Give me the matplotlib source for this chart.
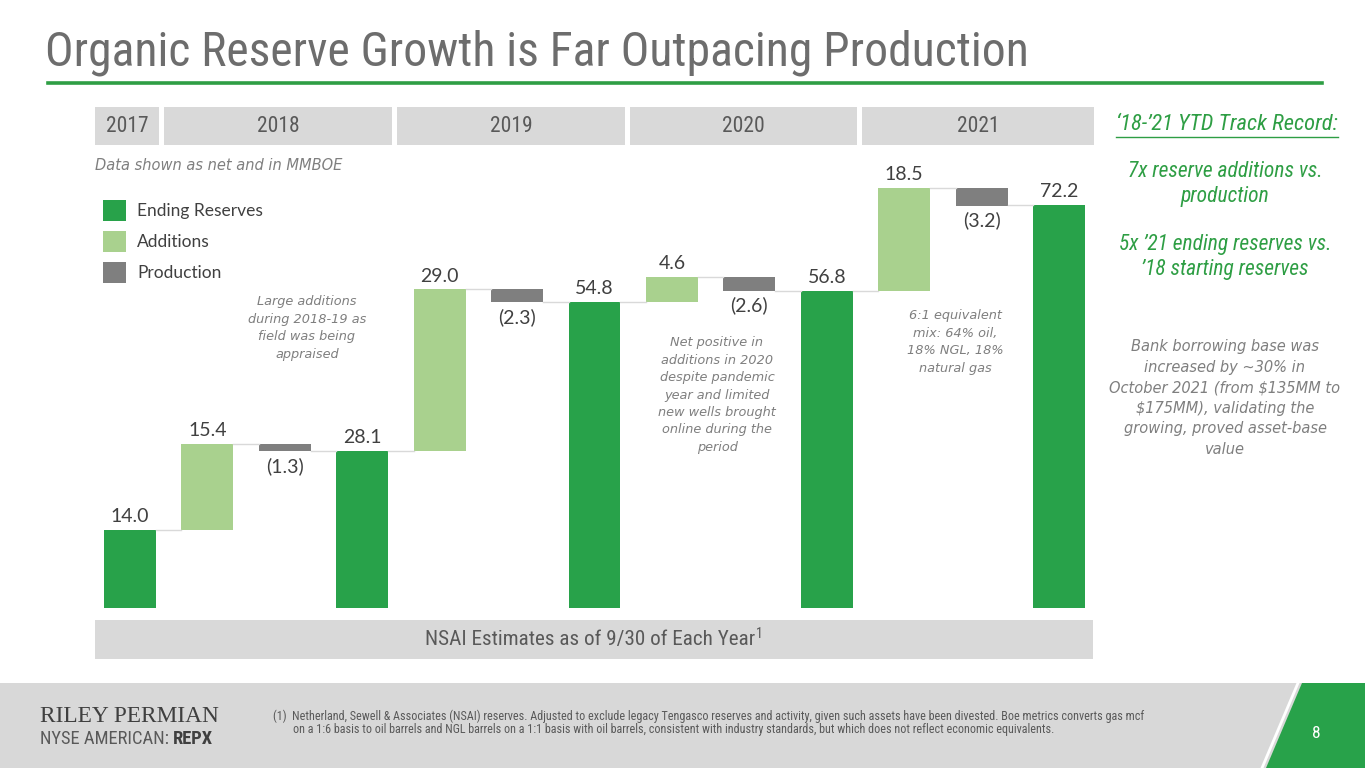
import matplotlib
matplotlib.use('Agg')
import matplotlib.pyplot as plt
from matplotlib import font_manager
from matplotlib.patches import Rectangle, Polygon

# ---- data (MMBOE, net) ----
years = ['2017', '2018', '2019', '2020', '2021']
ending = [14.0, 28.1, 54.8, 56.8, 72.2]
additions = [15.4, 29.0, 4.6, 18.5]
production = [1.3, 2.3, 2.6, 3.2]
legend_labels = ['Ending Reserves', 'Additions', 'Production']

notes = [
    'Large additions\nduring 2018-19 as\nfield was being\nappraised',
    'Net positive in\nadditions in 2020\ndespite pandemic\nyear and limited\nnew wells brought\nonline during the\nperiod',
    '6:1 equivalent\nmix: 64% oil,\n18% NGL, 18%\nnatural gas',
]

W, H = 1365, 768
GREEN = '#28a24a'
LIGHT = '#a9d18e'
GREY = '#7f7f7f'
BOX = '#d9d9d9'
TXT = '#595959'
ACCENT = '#2e9e44'


def pick(names):
    for n in names:
        try:
            font_manager.findfont(n, fallback_to_default=False)
            return n
        except Exception:
            pass
    return 'DejaVu Sans'


COND = pick(['Liberation Sans Narrow', 'Roboto Condensed', 'Roboto'])
SANS = pick(['Lato', 'Open Sans', 'DejaVu Sans'])
ITAL = 'DejaVu Sans'
SERIF = pick(['Liberation Serif', 'DejaVu Serif'])


def fx(x):
    return x / W


def fy(y):
    return 1 - y / H


fig = plt.figure(figsize=(W / 100, H / 100), dpi=100)
renderer = fig.canvas.get_renderer()


def fit(t, width_px):
    """scale a text object so it spans width_px"""
    bb = t.get_window_extent(renderer)
    t.set_fontsize(t.get_fontsize() * width_px / bb.width)


# ---- title ----
title = fig.text(fx(45), fy(53), 'Organic Reserve Growth is Far Outpacing Production',
                 fontsize=30, color='#6d6d6d', family=COND, va='center', ha='left')
fit(title, 983)
fig.add_artist(plt.Line2D([fx(48), fx(1322)], [fy(83), fy(83)], color=ACCENT, lw=2.6))

# ---- year header boxes ----
year_spans = [(95, 159), (164, 392), (397, 625), (630, 857), (862, 1094)]
for yr, (x0, x1) in zip(years, year_spans):
    fig.add_artist(Rectangle((fx(x0), fy(145)), fx(x1 - x0), 38 / H,
                             color=BOX, lw=0, transform=fig.transFigure))
    fig.text(fx((x0 + x1) / 2), fy(127), yr, fontsize=15.5, color=TXT,
             family=COND, ha='center', va='center')

dsub = fig.text(fx(95), fy(166), 'Data shown as net and in MMBOE', fontsize=10,
                color='#7f7f7f', style='italic', family=ITAL, ha='left', va='center')
fit(dsub, 247)

# ---- waterfall axes ----
ax = fig.add_axes([fx(94), fy(608), fx(1093 - 94), (608 - 160) / H])
ax.set_xlim(-36 / 77.42, 963 / 77.42)
ax.set_ylim(0, 448 / 5.58)
ax.axis('off')

bw = 0.67
lab = dict(fontsize=14, color='#404040', family=SANS, ha='center')


def label_above(x, y, s):
    ax.annotate(s, (x, y), xytext=(0, 3.5), textcoords='offset points', va='bottom', **lab)


def label_below(x, y, s):
    ax.annotate(s, (x, y), xytext=(0, -4), textcoords='offset points', va='top', **lab)


def connector(x_from, x_to, level):
    ax.plot([x_from + bw / 2, x_to - bw / 2], [level, level], color='#d9d9d9', lw=1, zorder=1)


ax.bar(0, ending[0], width=bw, color=GREEN)
label_above(0, ending[0], f'{ending[0]:.1f}')
for i in range(len(additions)):
    xa, xp, xe = 3 * i + 1, 3 * i + 2, 3 * i + 3
    top = ending[i] + additions[i]
    ax.bar(xa, additions[i], bottom=ending[i], width=bw, color=LIGHT)
    ax.bar(xp, production[i], bottom=top - production[i], width=bw, color=GREY)
    ax.bar(xe, ending[i + 1], width=bw, color=GREEN)
    connector(xa - 1, xa, ending[i])
    connector(xa, xp, top)
    connector(xp, xe, ending[i + 1])
    label_above(xa, top, f'{additions[i]:.1f}')
    label_below(xp, top - production[i], f'({production[i]:.1f})')
    label_above(xe, ending[i + 1], f'{ending[i + 1]:.1f}')

# ---- legend ----
for k, (name, col) in enumerate(zip(legend_labels, [GREEN, LIGHT, GREY])):
    y0 = 200 + 31 * k
    fig.add_artist(Rectangle((fx(103), fy(y0 + 21)), fx(23), 21 / H, color=col, lw=0,
                             transform=fig.transFigure))
    fig.text(fx(137), fy(y0 + 11), name, fontsize=12.5, color='#404040', family=SANS,
             ha='left', va='center')

# ---- notes ----
note_pos = [(307, 328), (717, 395), (955, 342)]
for txt, (x, y) in zip(notes, note_pos):
    fig.text(fx(x), fy(y), txt, fontsize=9.3, color='#7f7f7f', style='italic',
             family=ITAL, ha='center', va='center', linespacing=1.45)

# ---- bottom box ----
fig.add_artist(Rectangle((fx(95), fy(659)), fx(998), 39 / H, color=BOX, lw=0,
                         transform=fig.transFigure))
nsai = fig.text(fx(590), fy(640), 'NSAI Estimates as of 9/30 of Each Year', fontsize=15.2,
                color=TXT, family=COND, ha='center', va='center')
bb = nsai.get_window_extent(renderer)
fig.text(bb.x1 / W + 0.001, fy(634), '1', fontsize=10, color=TXT, family=COND,
         ha='left', va='center')

# ---- right side commentary ----
green_kw = dict(fontsize=15.5, color=ACCENT, style='italic', family=COND, ha='center',
                va='center', linespacing=1.3)
hdr = fig.text(fx(1227), fy(125), '\u201818-\u201921 YTD Track Record:', **green_kw)
fit(hdr, 221)
bb = hdr.get_window_extent(renderer)
fig.add_artist(plt.Line2D([bb.x0 / W, bb.x1 / W], [fy(137), fy(137)], color=ACCENT, lw=1))
fig.text(fx(1225), fy(184), '7x reserve additions vs.\nproduction', **green_kw)
fig.text(fx(1225), fy(257), '5x \u201921 ending reserves vs.\n\u201918 starting reserves', **green_kw)
fig.text(fx(1225), fy(398), 'Bank borrowing base was\nincreased by ~30% in\nOctober 2021 (from $135MM to\n'
         '$175MM), validating the\ngrowing, proved asset-base\nvalue', fontsize=10.5,
         color='#7f7f7f', style='italic', family=ITAL, ha='center', va='center', linespacing=1.45)

# ---- footer ----
fig.add_artist(Rectangle((0, 0), 1, 85 / H, color='#d8d8d8', lw=0, transform=fig.transFigure))
fig.add_artist(Polygon([(fx(1302), fy(683)), (1, fy(683)), (1, 0), (fx(1266), 0)],
                       closed=True, color='#28a24a', lw=0, transform=fig.transFigure))
fig.add_artist(plt.Line2D([fx(1298), fx(1262)], [fy(683), 0], color='white', lw=2))
fig.text(fx(1316), fy(734), '8', fontsize=12.5, color='white', family=COND, ha='center', va='center')

riley = fig.text(fx(40), fy(717), 'RILEY PERMIAN', fontsize=15, color='#3f3f3f',
                 family=SERIF, ha='left', va='center')
fit(riley, 180)
nyse = fig.text(fx(40), fy(739), 'NYSE AMERICAN: ', fontsize=13.3, color=TXT,
                family=COND, ha='left', va='center')
bb = nyse.get_window_extent(renderer)
fig.text(bb.x1 / W, fy(739), 'REPX', fontsize=13.3, color='#404040', family=COND,
         weight='bold', ha='left', va='center')

fn1 = fig.text(fx(273), fy(716), '(1)  Netherland, Sewell & Associates (NSAI) reserves. Adjusted to exclude legacy '
               'Tengasco reserves and activity, given such assets have been divested. Boe metrics converts gas mcf',
               fontsize=6.5, color=TXT, family=COND, ha='left', va='center')
fit(fn1, 870)
fig.text(fx(293), fy(729), 'on a 1:6 basis to oil barrels and NGL barrels on a 1:1 basis with oil barrels, '
         'consistent with industry standards, but which does not reflect economic equivalents.',
         fontsize=fn1.get_fontsize(), color=TXT, family=COND, ha='left', va='center')

fig.savefig('out.png', dpi=100)
